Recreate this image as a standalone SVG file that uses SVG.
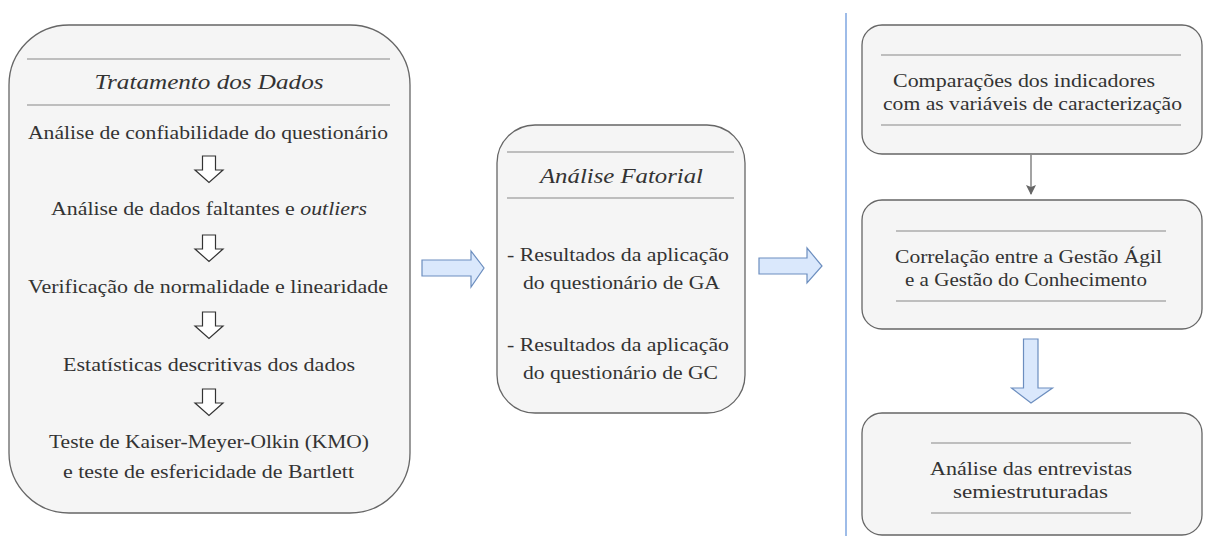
<svg xmlns="http://www.w3.org/2000/svg" width="1214" height="536" viewBox="0 0 1214 536">
<defs>
<style>
.box{fill:#f5f5f5;stroke:#666666;stroke-width:1.3}
.sep{stroke:#888888;stroke-width:1.2}
.t{font-family:"Liberation Serif","DejaVu Serif",serif;font-size:19.5px;fill:#333333;text-anchor:middle}
.it{font-style:italic;font-size:20px}
.harrow{fill:#ffffff;stroke:#333333;stroke-width:1.2;stroke-linejoin:miter}
.barrow{fill:#dae8fc;stroke:#6c8ebf;stroke-width:1.2}
</style>
<marker id="ah" viewBox="0 0 10 10" refX="9" refY="5" markerWidth="10" markerHeight="10" markerUnits="userSpaceOnUse" orient="auto">
<path d="M0,0 L10,5 L0,10 L2,5 Z" fill="#666666"/>
</marker>
</defs>
<rect width="1214" height="536" fill="#ffffff"/>

<g id="tratamento">
<rect class="box" x="9" y="25" width="401" height="488" rx="60" ry="60"/>
<line class="sep" x1="27" y1="59" x2="390" y2="59"/>
<line class="sep" x1="27" y1="105" x2="390" y2="105"/>
<text class="t it" x="209" y="89" textLength="229" lengthAdjust="spacingAndGlyphs">Tratamento dos Dados</text>
<text class="t" x="208" y="139" textLength="360" lengthAdjust="spacingAndGlyphs">Análise de confiabilidade do questionário</text>
<path class="harrow" d="M202.5,156 H215.5 V170 H223 L209,182.5 L195,170 H202.5 Z"/>
<text class="t" x="209" y="215" textLength="316" lengthAdjust="spacingAndGlyphs">Análise de dados faltantes e <tspan font-style="italic">outliers</tspan></text>
<path class="harrow" d="M202.5,235 H215.5 V249 H223 L209,261.5 L195,249 H202.5 Z"/>
<text class="t" x="208" y="293" textLength="360" lengthAdjust="spacingAndGlyphs">Verificação de normalidade e linearidade</text>
<path class="harrow" d="M202.5,312 H215.5 V326 H223 L209,338.5 L195,326 H202.5 Z"/>
<text class="t" x="209" y="371" textLength="292" lengthAdjust="spacingAndGlyphs">Estatísticas descritivas dos dados</text>
<path class="harrow" d="M202.5,389 H215.5 V403 H223 L209,415.5 L195,403 H202.5 Z"/>
<text class="t" x="209" y="448" textLength="320" lengthAdjust="spacingAndGlyphs">Teste de Kaiser-Meyer-Olkin (KMO)</text>
<text class="t" x="208.5" y="478" textLength="291" lengthAdjust="spacingAndGlyphs">e teste de esfericidade de Bartlett</text>
</g>

<g id="fatorial">
<rect class="box" x="497" y="125" width="248" height="288" rx="38" ry="38"/>
<line class="sep" x1="507" y1="152" x2="734" y2="152"/>
<line class="sep" x1="507" y1="198" x2="734" y2="198"/>
<text class="t it" x="621.5" y="183" textLength="163" lengthAdjust="spacingAndGlyphs">Análise Fatorial</text>
<text class="t" x="618" y="261" textLength="222" lengthAdjust="spacingAndGlyphs">- Resultados da aplicação</text>
<text class="t" x="621.5" y="289" textLength="197" lengthAdjust="spacingAndGlyphs">do questionário de GA</text>
<text class="t" x="618" y="351" textLength="222" lengthAdjust="spacingAndGlyphs">- Resultados da aplicação</text>
<text class="t" x="620.5" y="379" textLength="195" lengthAdjust="spacingAndGlyphs">do questionário de GC</text>
</g>

<g id="comparacoes">
<rect class="box" x="862" y="25" width="340" height="129" rx="20" ry="20"/>
<line class="sep" x1="881" y1="55" x2="1181" y2="55"/>
<line class="sep" x1="881" y1="125" x2="1181" y2="125"/>
<text class="t" x="1024" y="87" textLength="262" lengthAdjust="spacingAndGlyphs">Comparações dos indicadores</text>
<text class="t" x="1032.5" y="110" textLength="299" lengthAdjust="spacingAndGlyphs">com as variáveis de caracterização</text>
</g>

<g id="correlacao">
<rect class="box" x="862" y="200" width="340" height="129" rx="20" ry="20"/>
<line class="sep" x1="896" y1="231" x2="1166" y2="231"/>
<line class="sep" x1="896" y1="301" x2="1166" y2="301"/>
<text class="t" x="1028.5" y="263" textLength="267" lengthAdjust="spacingAndGlyphs">Correlação entre a Gestão Ágil</text>
<text class="t" x="1026" y="286" textLength="242" lengthAdjust="spacingAndGlyphs">e a Gestão do Conhecimento</text>
</g>

<g id="entrevistas">
<rect class="box" x="862" y="413" width="340" height="122" rx="20" ry="20"/>
<line class="sep" x1="931" y1="443" x2="1131" y2="443"/>
<line class="sep" x1="931" y1="513" x2="1131" y2="513"/>
<text class="t" x="1031" y="475" textLength="202" lengthAdjust="spacingAndGlyphs">Análise das entrevistas</text>
<text class="t" x="1030.5" y="498" textLength="155" lengthAdjust="spacingAndGlyphs">semiestruturadas</text>
</g>

<g id="connectors">
<line x1="846" y1="13" x2="846" y2="536" stroke="#7ea6e0" stroke-width="1.5"/>
<path class="barrow" d="M422,260 H471 V251 L484,268 L471,287 V276 H422 Z"/>
<path class="barrow" d="M759,258 H807 V248 L822,266 L807,283 V274 H759 Z"/>
<path class="barrow" d="M1023.5,339 H1038 V388 H1052.5 L1031,403 L1011.5,388 H1023.5 Z"/>
<line x1="1031" y1="155" x2="1031" y2="194" stroke="#666666" stroke-width="1.2" marker-end="url(#ah)"/>
</g>
</svg>
